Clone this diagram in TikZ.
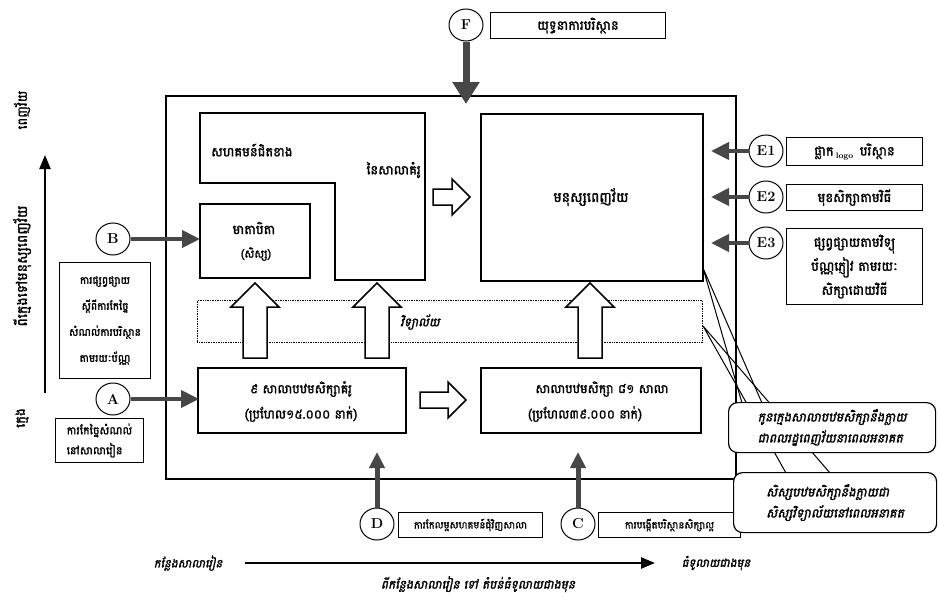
\documentclass[tikz,border=0pt]{standalone}
\usepackage{fontspec}
\usetikzlibrary{arrows.meta,shapes.geometric}
\newfontfamily\km[Script=Khmer,FakeBold=1.8]{Battambang}
\newfontfamily\kmit[Script=Khmer,FakeSlant=0.22,FakeBold=1.8]{Battambang}
\newcommand\hollowUp[3]{%
  \filldraw[fill=white,line width=1.5pt,line join=miter] (#1-12,#2) -- (#1-12,#3+24) -- (#1-24,#3+24) -- (#1,#3) -- (#1+24,#3+24) -- (#1+12,#3+24) -- (#1+12,#2) -- cycle;}
\newcommand\hollowRight[3]{%
  \filldraw[fill=white,line width=1.5pt,line join=miter] (#1,#3-8) -- (#2-18,#3-8) -- (#2-18,#3-18) -- (#2,#3) -- (#2-18,#3+18) -- (#2-18,#3+8) -- (#1,#3+8) -- cycle;}
\begin{document}
\begin{tikzpicture}[x=1pt,y=-1pt,
  box/.style={draw,line width=1.6pt,anchor=north west,inner sep=0pt},
  lab/.style={draw,line width=1pt,anchor=north west,inner sep=2pt,align=center,font=\km\fontsize{13}{24}\selectfont},
  txt/.style={inner sep=0pt,font=\km\fontsize{13}{15}\selectfont},
  itx/.style={inner sep=0pt,font=\kmit\fontsize{11.5}{13}\selectfont},
  circ/.style={draw,ellipse,line width=1pt,minimum width=34pt,minimum height=32pt,inner sep=0pt,font=\bfseries\Large},
  darr/.style={line width=4pt,black!72,-{Triangle[length=18pt,width=17pt]}},
  callout/.style={draw,rounded corners=9pt,line width=1.2pt,fill=white,anchor=north west,align=left,inner sep=3pt,font=\kmit\fontsize{12.5}{21}\selectfont}]
\useasboundingbox (0,0) rectangle (938,597);
\fill[white] (0,0) rectangle (938,597);

% main frame
\node[box,line width=2pt,minimum width=570pt,minimum height=383pt] (frame) at (165,95) {};

% L-shaped community block
\draw[line width=1.6pt] (200,113) -- (425,113) -- (425,280) -- (335,280) -- (335,183) -- (200,183) -- cycle;
\node[txt,anchor=west] (comm1) at (211,150) {សហគមន៍ជិតខាង};
\node[txt,anchor=east] (comm2) at (421,170) {នៃសាលាគំរូ};

% parents box
\node[box,minimum width=110pt,minimum height=74pt] (parent) at (199,203) {};
\node[txt] (parent1) at (254,228) {មាតាបិតា};
\node[txt,font=\km\fontsize{11}{13}\selectfont] (parent2) at (256,254) {(សិស្ស)};

% adults box
\node[box,minimum width=222pt,minimum height=167pt] (adult) at (480,113) {};
\node[txt,font=\km\fontsize{14}{16}\selectfont] (adult1) at (591,197) {មនុស្សពេញវ័យ};

% dotted band
\node[draw,densely dotted,line width=0.7pt,anchor=north west,minimum width=505pt,minimum height=42pt,inner sep=0pt] (band) at (197,300) {};
\node[itx,font=\kmit\fontsize{12}{14}\selectfont] (band1) at (420,322) {វិទ្យាល័យ};

% bottom boxes
\node[box,minimum width=208pt,minimum height=65pt] (pilot) at (197,367) {};
\node[txt,font=\km\fontsize{12.5}{15}\selectfont] (pilot1) at (301,389) {៩ សាលាបឋមសិក្សាគំរូ};
\node[txt,font=\km\fontsize{12.5}{15}\selectfont] (pilot2) at (301,414) {(ប្រហែល១៥.០០០ នាក់)};
\node[box,minimum width=220pt,minimum height=65pt] (other) at (480,367) {};
\node[txt,font=\km\fontsize{12.5}{15}\selectfont] (other1) at (602,389) {សាលាបឋមសិក្សា ៨១ សាលា};
\node[txt,font=\km\fontsize{12.5}{15}\selectfont] (other2) at (585,414) {(ប្រហែល៣៩.០០០ នាក់)};

% hollow arrows
\hollowUp{255}{358}{283}
\hollowUp{377}{358}{283}
\hollowUp{590}{358}{283}
\hollowRight{433}{470}{197}
\hollowRight{420}{466}{400}

% left axis
\coordinate (vbot) at (45,393);
\coordinate (vtop) at (45,155);
\draw[line width=2.2pt,-{Triangle[length=14pt,width=11pt]}] (vbot) -- (vtop);
\node[txt,rotate=90] (ax1) at (22,110) {ពេញវ័យ};
\node[txt,rotate=90,font=\km\fontsize{14}{16}\selectfont] (ax2) at (22,266) {ពីក្មេងទៅមនុស្សពេញវ័យ};
\node[txt,rotate=90] (ax3) at (22,418) {ក្មេង};

% bottom axis
\coordinate (hl) at (245,563);
\coordinate (hr) at (655,563);
\draw[line width=2.4pt,-{Triangle[length=14pt,width=11pt]}] (hl) -- (hr);
\node[itx] (bx1) at (188,563) {កន្លែងសាលារៀន};
\node[itx] (bx2) at (716,563) {ធំទូលាយជាងមុន};
\node[itx,font=\kmit\fontsize{12}{14}\selectfont] (bx3) at (478,584) {ពីកន្លែងសាលារៀន ទៅ តំបន់ធំទូលាយជាងមុន};

% F
\node[circ] (F) at (466,25) {F};
\node[lab,minimum width=175pt,minimum height=26pt] (Ft) at (490,12) {យុទ្ធនាការបរិស្ថាន};
\coordinate (Ftip) at (466,104);
\draw[darr,line width=7pt,-{Triangle[length=22pt,width=26pt]}] (F) -- (Ftip);

% E1 E2 E3
\node[circ] (E1) at (766,151) {E1};
\node[lab,minimum width=136pt,minimum height=28pt] (E1t) at (786,137) {ផ្លាក\,\raisebox{-2.5pt}{\rmfamily\footnotesize\bfseries logo}\, បរិស្ថាន};
\node[circ] (E2) at (766,197) {E2};
\node[lab,minimum width=136pt,minimum height=26pt] (E2t) at (786,184) {មុខសិក្សាតាមវិធី};
\node[circ] (E3) at (766,243) {E3};
\node[lab,minimum width=136pt,minimum height=76pt] (E3t) at (786,228) {ផ្សព្វផ្សាយតាមវិទ្យុ\\ប័ណ្ណភ្ញៀវ តាមរយៈ\\សិក្សាដោយវិធី};
\coordinate (E1tip) at (711,151);
\coordinate (E2tip) at (711,197);
\coordinate (E3tip) at (711,243);
\draw[darr] (E1) -- (E1tip);
\draw[darr] (E2) -- (E2tip);
\draw[darr] (E3) -- (E3tip);

% B
\node[circ] (B) at (113,239) {B};
\node[lab,minimum width=91pt,minimum height=116pt,font=\km\fontsize{10.5}{26}\selectfont] (Bt) at (59,262) {ការផ្សព្វផ្សាយ\\ស្ដីពីការកែច្នៃ\\សំណល់ការបរិស្ថាន\\តាមរយៈប័ណ្ណ};
\coordinate (Btip) at (200,239);
\draw[darr] (B) -- (Btip);

% A
\node[circ] (A) at (113,399) {A};
\node[lab,minimum width=88pt,minimum height=44pt,align=left,font=\km\fontsize{11}{20}\selectfont] (At) at (55,418) {ការកែច្នៃសំណល់\\នៅសាលារៀន};
\coordinate (Atip) at (199,399);
\draw[darr] (A) -- (Atip);

% D and C
\node[circ] (D) at (377,524) {D};
\node[lab,minimum width=144pt,minimum height=25pt,font=\km\fontsize{10}{12}\selectfont] (Dt) at (398,512) {ការកែលម្អសហគមន៍ជុំវិញសាលា};
\coordinate (Dtip) at (377,452);
\draw[darr,line width=5pt,-{Triangle[length=16pt,width=15pt]}] (D) -- (Dtip);
\node[circ] (C) at (578,524) {C};
\node[lab,minimum width=142pt,minimum height=25pt,font=\km\fontsize{10}{12}\selectfont] (Ct) at (598,512) {ការបង្កើតបរិស្ថានសិក្សាល្អ};
\coordinate (Ctip) at (578,452);
\draw[darr,line width=5pt,-{Triangle[length=16pt,width=15pt]}] (C) -- (Ctip);

% callouts
\coordinate (k1) at (703,268);
\coordinate (k2) at (703,326);
\coordinate (c1a) at (742,403);
\coordinate (c1b) at (762,403);
\coordinate (c2a) at (786,473);
\coordinate (c2b) at (830,473);
\draw[line width=1pt] (k1) -- (c1a) (k1) -- (c1b);
\draw[line width=1pt] (k2) -- (c2a) (k2) -- (c2b);
\node[callout,minimum width=207pt,minimum height=50pt] (call1) at (728,402) {កូនក្មេងសាលាបឋមសិក្សានឹងក្លាយ\\ជាពលរដ្ឋពេញវ័យនាពេលអនាគត};
\node[callout,minimum width=203pt,minimum height=60pt] (call2) at (733,472) {សិស្សបឋមសិក្សានឹងក្លាយជា\\សិស្សវិទ្យាល័យនៅពេលអនាគត};
\end{tikzpicture}
\end{document}
